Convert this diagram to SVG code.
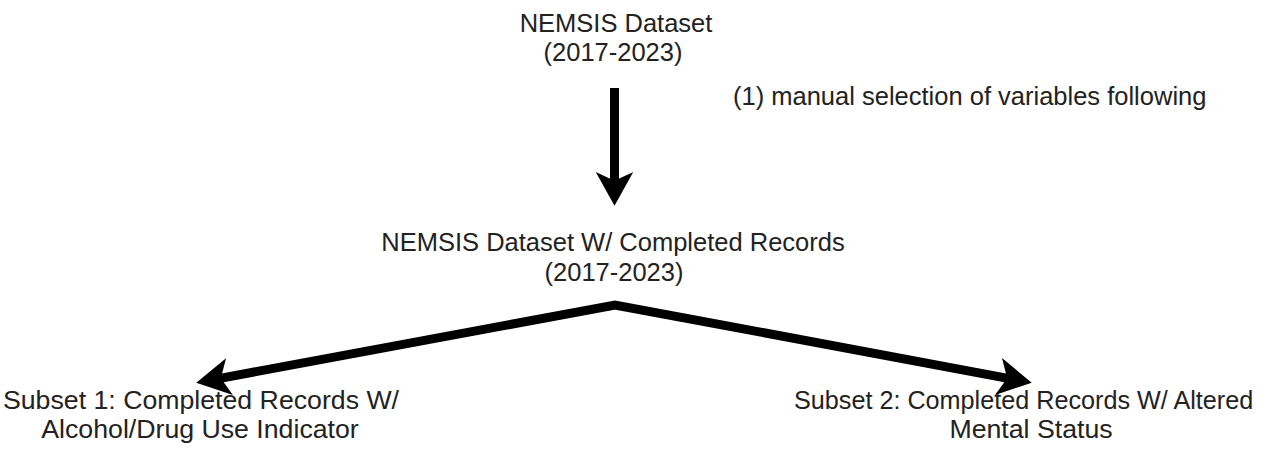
<svg xmlns="http://www.w3.org/2000/svg" width="1271" height="464" viewBox="0 0 1271 464">
<style>
text{font-family:"Liberation Sans",Arial,sans-serif;font-size:25.5px;fill:#222}
.c{text-anchor:middle}
.b{font-size:26.7px}
.s{font-size:25.2px}
.ln{stroke:#000;stroke-width:9;fill:none;stroke-linejoin:miter}
</style>
<defs>
<marker id="ah" markerUnits="userSpaceOnUse" markerWidth="40" markerHeight="40" viewBox="0 -16 28 32" refX="12" refY="0" orient="auto-start-reverse">
<path d="M27,0 L0,-15 L7,0 L0,15 Z" fill="#000"/>
</marker>
</defs>
<rect width="1271" height="464" fill="#fff"/>
<g id="node-dataset">
<text class="c" x="616" y="32">NEMSIS Dataset</text>
<text class="c" x="613" y="61">(2017-2023)</text>
</g>
<g id="note">
<text x="733" y="105">(1) manual selection of variables following</text>
</g>
<g id="node-completed">
<text class="c" x="613" y="251">NEMSIS Dataset W/ Completed Records</text>
<text class="c" x="614" y="281">(2017-2023)</text>
</g>
<g id="node-subset1">
<text class="c b" x="201" y="409">Subset 1: Completed Records W/</text>
<text class="c b" x="200" y="438">Alcohol/Drug Use Indicator</text>
</g>
<g id="node-subset2">
<text class="s" x="794" y="409">Subset 2: Completed Records W/ Altered</text>
<text class="c b" x="1031" y="438">Mental Status</text>
</g>
<g id="connectors">
<path class="ln" d="M614.5,88 L614.5,187" marker-end="url(#ah)"/>
<path class="ln" d="M214.7,379.3 L615,305 L1013.3,379.3" marker-start="url(#ah)" marker-end="url(#ah)"/>
</g>
</svg>
